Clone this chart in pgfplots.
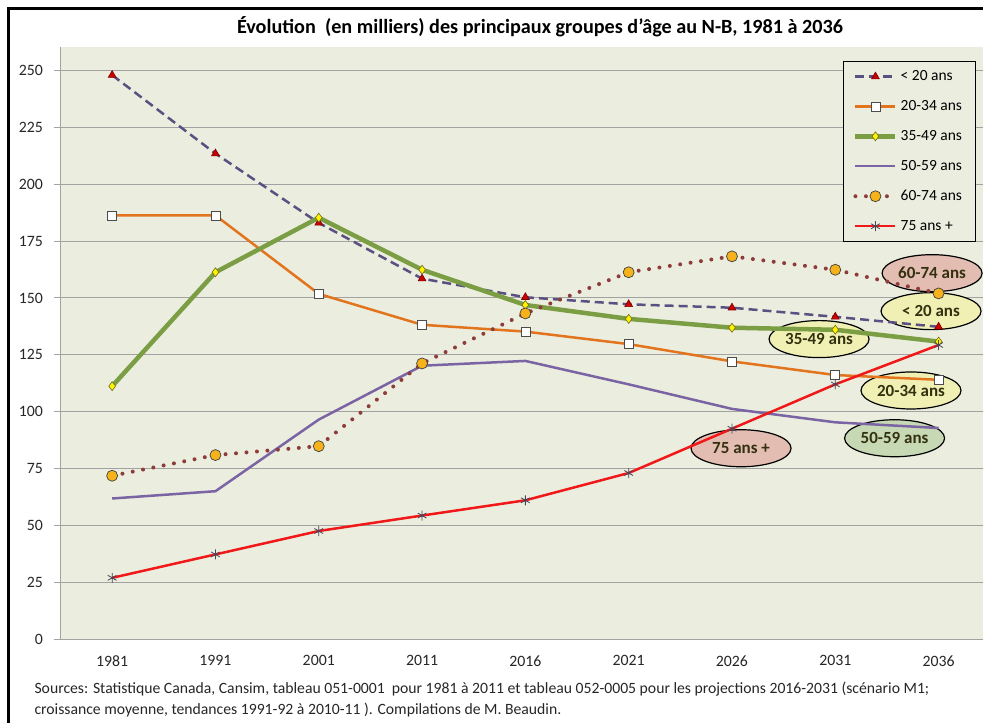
\documentclass[border=0pt]{standalone}
\usepackage{pgfplots}
\pgfplotsset{compat=1.18}
\usepackage{fontspec}
\setmainfont{Carlito}
\usetikzlibrary{shapes.geometric}
\definecolor{plotbg}{HTML}{EBEEDE}
\definecolor{gridc}{HTML}{A2A2A2}
\definecolor{c20}{HTML}{5A5082}
\definecolor{c2034}{HTML}{E3741E}
\definecolor{c3549}{HTML}{7B9E45}
\definecolor{c5059}{HTML}{7A64A4}
\definecolor{c6074}{HTML}{8E3B3B}
\definecolor{c75}{HTML}{F01818}
\definecolor{trired}{HTML}{CC0000}
\definecolor{circ}{HTML}{F5B21B}
\definecolor{elpink}{HTML}{E3BDB2}
\definecolor{elyel}{HTML}{F1F0B4}
\definecolor{elgreen}{HTML}{C7D8B4}
\definecolor{txtdark}{HTML}{33300F}
\definecolor{starc}{HTML}{44465A}
\begin{document}
\begin{tikzpicture}
\useasboundingbox (0,0) rectangle (983pt,-723pt);
\draw[line width=3pt] (8.5pt,-8.5pt) rectangle (995pt,-735pt);
\node[font=\bfseries\fontsize{20.2}{24}\selectfont] at (540pt,-27pt) {Évolution~ (en milliers) des principaux groupes d'âge au N-B, 1981 à 2036};
\begin{axis}[
  at={(60.5pt,-639pt)}, anchor=south west,
  scale only axis, width=922.5pt, height=592.3pt,
  xmin=-0.5, xmax=8.43, ymin=0, ymax=260.5,
  axis background/.style={fill=plotbg},
  axis lines*=left,
  axis line style={draw=gridc, line width=1pt, -},
  ymajorgrids, grid style={gridc, line width=1pt},
  ytick={0,25,...,250},
  xtick={0,...,8},
  xticklabels={1981,1991,2001,2011,2016,2021,2026,2031,2036},
  tick align=outside,
  major tick length=6pt,
  x tick style={draw=none},
  y tick style={gridc, line width=1pt},
  extra x ticks={-0.5,0.5,1.5,2.5,3.5,4.5,5.5,6.5,7.5},
  extra x tick labels={},
  extra x tick style={grid=none, tick style={draw=gridc, line width=1pt}, major tick length=6pt},
  /pgf/number format/assume math mode=true,
  ticklabel style={font=\fontsize{15.8}{18}\selectfont, text=black!85},
  xticklabel style={yshift=-7pt},
  yticklabel style={xshift=-8pt},
  clip=false,
  legend style={at={(0.848,0.976)}, anchor=north west, fill=plotbg, draw=black, line width=0.8pt,
     font=\fontsize{15.5}{18}\selectfont, row sep=14.3pt, inner xsep=10pt, inner ysep=7.5pt,
     nodes={inner xsep=3pt}},
  legend cell align=left,
  legend image code/.code={\draw[mark repeat=2,mark phase=2,#1] plot coordinates {(0pt,0pt) (20pt,0pt) (40pt,0pt)};},
]
% annotations (beneath the lines)
\tikzset{lab/.style={ellipse, draw, line width=1.2pt, minimum width=100pt, minimum height=37pt, inner sep=0pt, font=\bfseries\fontsize{17}{20}\selectfont, text=txtdark}}
\node[lab, fill=elpink] at (axis cs:7.937,160.9) {60-74 ans};
\node[lab, fill=elyel] at (axis cs:7.927,144.2) {< 20 ans};
\node[lab, fill=elyel] at (axis cs:6.843,131.9) {35-49 ans};
\node[lab, fill=elyel] at (axis cs:7.733,109.3) {20-34 ans};
\node[lab, fill=elgreen] at (axis cs:7.574,88.3) {50-59 ans};
\node[lab, fill=elpink] at (axis cs:6.088,83.9) {75 ans +};

\addplot[c20, line width=2.5pt, dash pattern=on 9pt off 5pt, mark=triangle*, mark size=4.5pt,
  mark options={solid, fill=trired, draw=trired!60!black, line width=0.6pt}]
  coordinates {(0,248) (1,213.5) (2,183) (3,158.5) (4,150.3) (5,147.2) (6,145.7) (7,141.7) (8,137.3)};
\addlegendentry{< 20 ans}
\addplot[c2034, line width=2.5pt, mark=square*, mark size=4.5pt,
  mark options={fill=white, draw=black!70, line width=0.7pt}]
  coordinates {(0,186.3) (1,186.3) (2,151.8) (3,138.2) (4,135.2) (5,129.7) (6,122.1) (7,116.1) (8,114)};
\addlegendentry{20-34 ans}
\addplot[c3549, line width=4.5pt, mark=diamond*, mark size=4.5pt,
  mark options={fill=yellow, draw=olive!70!black, line width=0.6pt}]
  coordinates {(0,111.2) (1,161.3) (2,185.3) (3,162.4) (4,146.9) (5,140.8) (6,136.9) (7,136) (8,130.8)};
\addlegendentry{35-49 ans}
\addplot[c5059, line width=2.5pt, mark=none]
  coordinates {(0,61.8) (1,65) (2,96.5) (3,120.2) (4,122.3) (5,112) (6,101.2) (7,95.3) (8,92.8)};
\addlegendentry{50-59 ans}
\addplot[c6074, line width=4pt, line cap=round, dash pattern=on 0pt off 10.5pt, mark=*, mark size=5.5pt,
  mark options={solid, fill=circ, draw=black!75, line width=0.7pt}]
  coordinates {(0,71.8) (1,80.9) (2,84.8) (3,121.2) (4,143.2) (5,161.3) (6,168.3) (7,162.4) (8,152)};
\addlegendentry{60-74 ans}
\addplot[c75, line width=2.5pt, mark=asterisk, mark size=5pt,
  mark options={draw=starc, line width=0.8pt}]
  coordinates {(0,26.9) (1,37.2) (2,47.5) (3,54.3) (4,61) (5,73) (6,92.5) (7,112) (8,129.3)};
\addlegendentry{75 ans +}
\end{axis}
\node[anchor=west, font=\fontsize{15.7}{18}\selectfont, text=black!85] at (31pt,-689pt) {Sources: Statistique Canada, Cansim, tableau 051-0001~ pour 1981 à 2011 et tableau 052-0005 pour les projections 2016-2031 (scénario M1;};
\node[anchor=west, font=\fontsize{15.7}{18}\selectfont, text=black!85] at (31pt,-710pt) {croissance moyenne, tendances 1991-92 à 2010-11 ). Compilations de M. Beaudin.};
\end{tikzpicture}
\end{document}
